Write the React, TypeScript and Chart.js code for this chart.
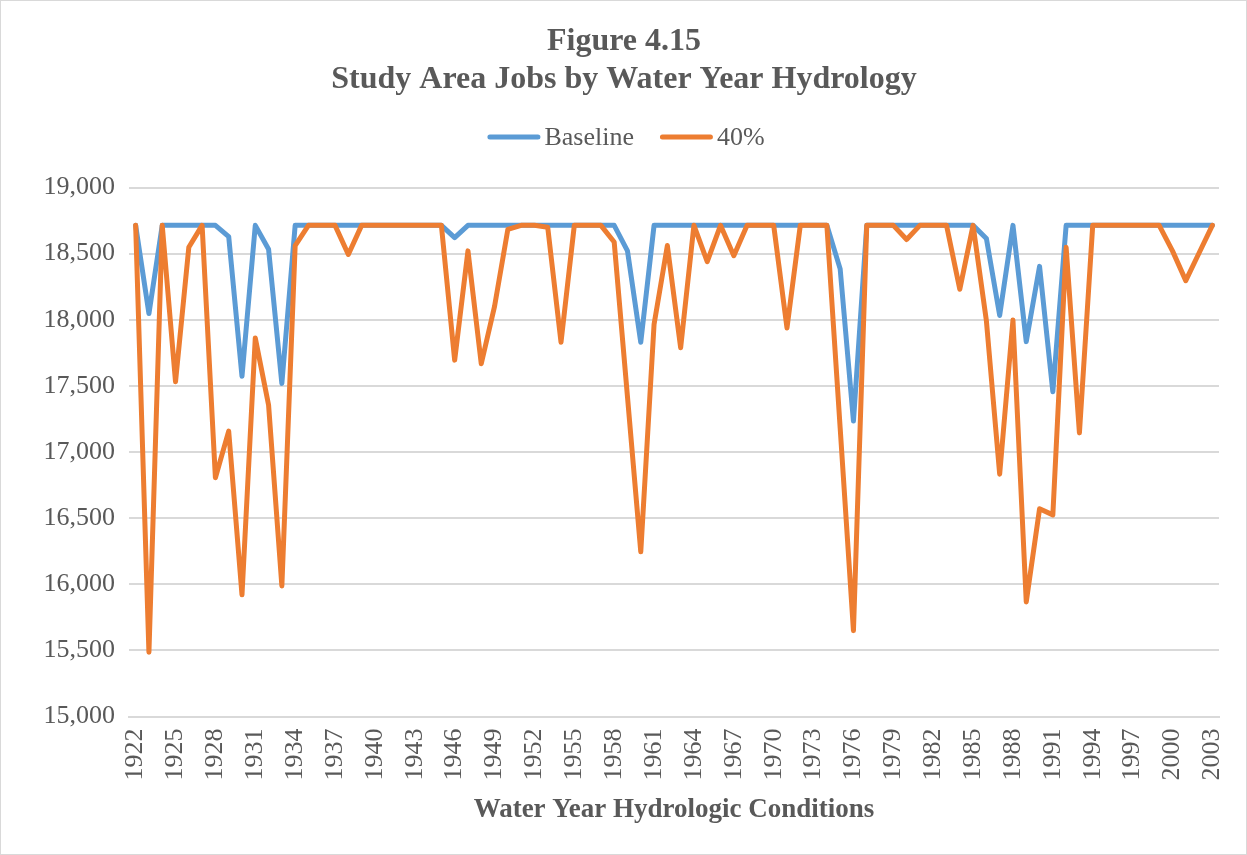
import React, { useEffect, useRef } from "react";
import { Chart, registerables } from "chart.js";

Chart.register(...registerables);

const years: string[] = [
  "1922","1923","1924","1925","1926","1927","1928","1929","1930","1931",
  "1932","1933","1934","1935","1936","1937","1938","1939","1940","1941",
  "1942","1943","1944","1945","1946","1947","1948","1949","1950","1951",
  "1952","1953","1954","1955","1956","1957","1958","1959","1960","1961",
  "1962","1963","1964","1965","1966","1967","1968","1969","1970","1971",
  "1972","1973","1974","1975","1976","1977","1978","1979","1980","1981",
  "1982","1983","1984","1985","1986","1987","1988","1989","1990","1991",
  "1992","1993","1994","1995","1996","1997","1998","1999","2000","2001",
  "2002","2003",
];

const baseline: number[] = [
  18714, 18047, 18714, 18714, 18714, 18714, 18714, 18629, 17573, 18714,
  18534, 17519, 18714, 18714, 18714, 18714, 18714, 18714, 18714, 18714,
  18714, 18714, 18714, 18714, 18621, 18714, 18714, 18714, 18714, 18714,
  18714, 18714, 18714, 18714, 18714, 18714, 18714, 18521, 17830, 18714,
  18714, 18714, 18714, 18714, 18714, 18714, 18714, 18714, 18714, 18714,
  18714, 18714, 18714, 18385, 17234, 18714, 18714, 18714, 18714, 18714,
  18714, 18714, 18714, 18714, 18615, 18033, 18714, 17835, 18404, 17456,
  18714, 18714, 18714, 18714, 18714, 18714, 18714, 18714, 18714, 18714,
  18714, 18714,
];

const forty: number[] = [
  18714, 15487, 18714, 17532, 18548, 18714, 16806, 17158, 15921, 17863,
  17356, 15988, 18561, 18714, 18714, 18714, 18494, 18714, 18714, 18714,
  18714, 18714, 18714, 18714, 17695, 18521, 17668, 18101, 18683, 18714,
  18714, 18700, 17830, 18714, 18714, 18714, 18588, 17418, 16246, 17965,
  18561, 17789, 18714, 18439, 18714, 18485, 18714, 18714, 18714, 17938,
  18714, 18714, 18714, 17183, 15650, 18714, 18714, 18714, 18607, 18714,
  18714, 18714, 18231, 18714, 17993, 16833, 17998, 15867, 16571, 16525,
  18548, 17145, 18714, 18714, 18714, 18714, 18714, 18714, 18521, 18296,
  18505, 18714,
];

const seriesNames: string[] = ["Baseline", "40%"];
const seriesColors: string[] = ["#5B9BD5", "#ED7D31"];
const titleLines: string[] = ["Figure 4.15", "Study Area Jobs by Water Year Hydrology"];
const xAxisTitle = "Water Year Hydrologic Conditions";

const FONT = '"Liberation Serif", "Times New Roman", serif';
const TEXT = "#595959";
const GRID = "#D9D9D9";

// Excel-style legend: short line sample, small gap, then the label text.
const excelLegend = {
  id: "excelLegend",
  afterDraw(chart: any) {
    const ctx = chart.ctx;
    const lineLen = 53;
    const gap = 4;
    const itemGap = 26;
    const cy = 136;
    ctx.save();
    ctx.font = `26px ${FONT}`;
    const items = chart.data.datasets.map((ds: any) => ({
      text: ds.label as string,
      color: ds.borderColor as string,
      w: ctx.measureText(ds.label).width as number,
    }));
    let total = 0;
    items.forEach((it: any, i: number) => {
      total += lineLen + gap + it.w + (i < items.length - 1 ? itemGap : 0);
    });
    let x = 625 - total / 2;
    ctx.textBaseline = "middle";
    ctx.textAlign = "left";
    items.forEach((it: any) => {
      ctx.beginPath();
      ctx.strokeStyle = it.color;
      ctx.lineWidth = 5;
      ctx.lineCap = "round";
      ctx.moveTo(x + 2.5, cy);
      ctx.lineTo(x + lineLen - 2.5, cy);
      ctx.stroke();
      ctx.fillStyle = TEXT;
      ctx.fillText(it.text, x + lineLen + gap, cy + 1);
      x += lineLen + gap + it.w + itemGap;
    });
    ctx.restore();
  },
};

export default function App() {
  const ref = useRef<HTMLCanvasElement | null>(null);

  useEffect(() => {
    document.body.style.margin = "0";
    const canvas = ref.current;
    if (!canvas) return;
    const chart = new Chart(canvas, {
      type: "line",
      data: {
        labels: years,
        datasets: [
          {
            label: seriesNames[0],
            data: baseline,
            borderColor: seriesColors[0],
            backgroundColor: seriesColors[0],
            borderWidth: 5,
            pointRadius: 0,
            tension: 0,
            borderJoinStyle: "round",
            borderCapStyle: "round",
            order: 2,
          },
          {
            label: seriesNames[1],
            data: forty,
            borderColor: seriesColors[1],
            backgroundColor: seriesColors[1],
            borderWidth: 5,
            pointRadius: 0,
            tension: 0,
            borderJoinStyle: "round",
            borderCapStyle: "round",
            order: 1,
          },
        ],
      },
      options: {
        responsive: false,
        animation: false,
        layout: { padding: { left: 28, right: 27, top: 0, bottom: 28 } },
        plugins: {
          tooltip: { enabled: false },
          legend: { display: false },
          title: {
            display: true,
            text: titleLines,
            color: TEXT,
            font: { family: FONT, size: 32, weight: "bold", lineHeight: 1.18 },
            padding: { top: 22, bottom: 89 },
          },
        },
        scales: {
          x: {
            type: "category",
            offset: true,
            grid: { display: false, drawTicks: false },
            border: { display: true, color: GRID, width: 2 },
            ticks: {
              autoSkip: false,
              minRotation: 90,
              maxRotation: 90,
              padding: 12,
              color: TEXT,
              font: { family: FONT, size: 26 },
              callback: function (this: any, _v: any, index: number) {
                return index % 3 === 0 ? years[index] : null;
              },
            },
            title: {
              display: true,
              text: xAxisTitle,
              color: TEXT,
              font: { family: FONT, size: 27, weight: "bold" },
              padding: { top: 1, bottom: 0 },
            },
            afterFit: (scale: any) => {
              scale.paddingLeft = 0;
              scale.paddingRight = 0;
            },
          },
          y: {
            min: 15000,
            max: 19000,
            grid: { color: GRID, lineWidth: 2, drawTicks: false },
            border: { display: false },
            ticks: {
              stepSize: 500,
              padding: 14,
              color: TEXT,
              font: { family: FONT, size: 26 },
            },
            afterFit: (scale: any) => {
              scale.width = 100;
            },
          },
        },
      },
      plugins: [excelLegend],
    });
    return () => chart.destroy();
  }, []);

  return (
    <div
      style={{
        width: 1247,
        height: 855,
        boxSizing: "border-box",
        border: `1px solid ${GRID}`,
        background: "#fff",
        overflow: "hidden",
      }}
    >
      <canvas ref={ref} width={1245} height={853} style={{ display: "block" }} />
    </div>
  );
}
